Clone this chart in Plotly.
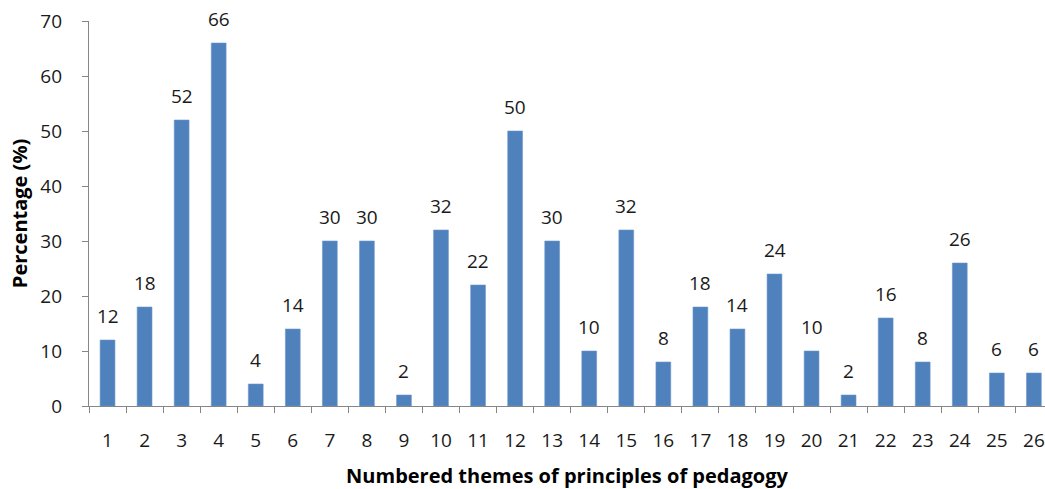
import plotly.graph_objects as go

themes = [str(i) for i in range(1, 27)]
percentages = [12, 18, 52, 66, 4, 14, 30, 30, 2, 32, 22, 50, 30, 10, 32, 8, 18, 14, 24, 10, 2, 16, 8, 26, 6, 6]
y_ticks = [0, 10, 20, 30, 40, 50, 60, 70]

FONT = "Open Sans"
bar_color = "#4F81BD"

fig = go.Figure()
fig.add_trace(go.Bar(
    x=themes, y=percentages, width=0.4,
    marker=dict(color=bar_color, line=dict(color="#6d97cb", width=0.6)),
    hoverinfo="x+y",
))

for i, v in enumerate(percentages):
    fig.add_annotation(x=i, y=v, xref="x", yref="y", text=str(v), showarrow=False,
                       yanchor="middle", yshift=24,
                       font=dict(family=FONT, size=19, color="#1a1a1a"))

fig.update_layout(
    width=1045, height=489,
    margin=dict(l=89, r=0, t=21, b=83, autoexpand=False),
    plot_bgcolor="white", paper_bgcolor="white",
    showlegend=False,
    bargap=0.6,
    font=dict(family=FONT, size=19, color="#1a1a1a"),
)
fig.update_xaxes(
    type="category", range=[-0.5, 25.3], automargin=False,
    tickson="boundaries", ticks="outside", ticklen=6, tickcolor="#868686",
    showline=True, linecolor="#868686", linewidth=1.3,
    showgrid=False, zeroline=False,
    tickfont=dict(family=FONT, size=19, color="#1a1a1a"),
    ticklabelstandoff=17, ticklabeloverflow="allow",
    title=dict(text="<b>Numbered themes of principles of pedagogy</b>",
               font=dict(family=FONT, size=20, color="#000000"), standoff=19),
)
fig.update_yaxes(
    range=[0, 70], tickvals=y_ticks, automargin=False,
    ticks="outside", ticklen=6, tickcolor="#868686",
    showline=True, linecolor="#868686", linewidth=1.3,
    showgrid=False, zeroline=False,
    tickfont=dict(family=FONT, size=19, color="#1a1a1a"),
    ticklabelstandoff=16, ticklabeloverflow="allow",
    title=dict(text="<b>Percentage (%)</b>",
               font=dict(family=FONT, size=20, color="#000000"), standoff=7),
)

fig.write_html("out.html", config={"displayModeBar": False},
               post_script="document.body.style.margin='0';")
